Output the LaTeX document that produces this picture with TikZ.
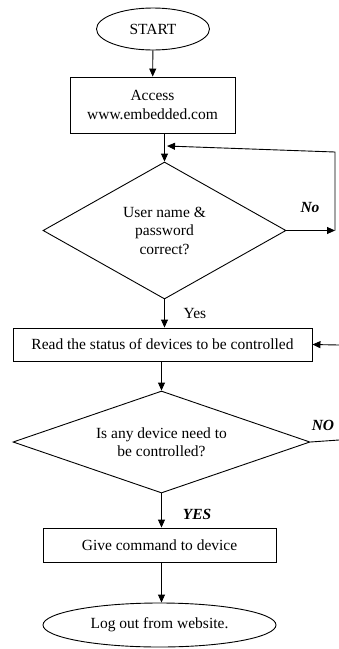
\documentclass[tikz,border=0pt]{standalone}
\usepackage{fontspec}
\setmainfont{Liberation Serif}
\usetikzlibrary{shapes.geometric,arrows.meta}
\begin{document}
\begin{tikzpicture}[x=1pt,y=-1pt,
  every node/.style={font=\fontsize{15.5}{18.5}\selectfont, inner sep=0pt, align=center},
  box/.style={draw, rectangle, line width=0.9pt},
  oval/.style={draw, ellipse, line width=0.9pt},
  decision/.style={draw, diamond, line width=0.9pt},
  flow/.style={line width=0.9pt, -{Triangle[length=8pt,width=7pt]}},
  plain/.style={line width=0.9pt},
  tag/.style={font=\fontsize{15.5}{18.5}\selectfont\bfseries\itshape}]
\useasboundingbox (0,0) rectangle (339,649);

\node[oval, minimum width=113pt, minimum height=42pt] (start) at (153,29) {START};
\node[box, minimum width=165pt, minimum height=56pt] (acc) at (152.5,105) {Access\\www.embedded.com};
\node[decision, aspect=1.77, minimum width=243pt, minimum height=137pt] (dec1) at (164.5,230.5)
  {User name \&\\password\\correct?};
\node[box, minimum width=299pt, minimum height=33pt] (read) at (162.5,344.5)
  {Read the status of devices to be controlled};
\node[decision, aspect=2.9, minimum width=297pt, minimum height=102pt] (dec2) at (161.5,442)
  {Is any device need to\\be controlled?};
\node[box, minimum width=233pt, minimum height=34pt] (give) at (159.5,545) {Give command to device};
\node[oval, minimum width=233pt, minimum height=44pt] (logout) at (159.5,625) {Log out from website.};

% labels on the branches
\node[tag] (no) at (310,207) {No};
\node (yes) at (195,313) {Yes};
\node[tag] (no2) at (323,425) {NO};
\node[tag] (yes2) at (197,514) {YES};

% loose ends of the side connectors
\coordinate (loopA) at (335,230.5);
\coordinate (loopB) at (335,152);
\coordinate (loopC) at (167,146);
\coordinate (inR) at (339,345);
\coordinate (outR) at (339,440);

% main flow
\draw[flow] (start) -- (acc);
\draw[flow] (acc.south -| dec1.north) -- (dec1.north);
\draw[flow] (dec1.south) -- (dec1.south |- read.north);
\draw[flow] (read.south -| dec2.north) -- (dec2.north);
\draw[flow] (dec2.south) -- (dec2.south |- give.north);
\draw[flow] (give.south -| dec2.south) -- (dec2.south |- logout.north);

% retry loop and side branches
\draw[flow] (dec1.east) -- (loopA);
\draw[flow] (loopA) -- (loopB) -- (loopC);
\draw[flow] (inR) -- (read.east);
\draw[plain] (dec2.east) -- (outR);
\end{tikzpicture}
\end{document}
